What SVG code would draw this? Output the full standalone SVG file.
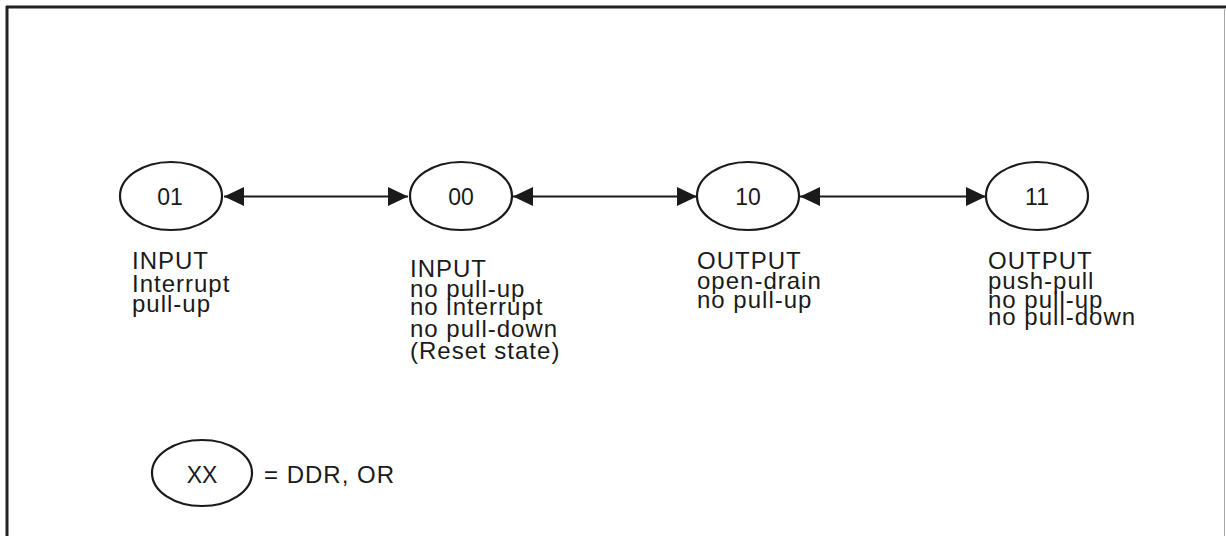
<svg xmlns="http://www.w3.org/2000/svg" width="1226" height="536" viewBox="0 0 1226 536">
<style>
.st{fill:#fff;stroke:#1a1a1a;stroke-width:2.2}
.lbl{font-family:"Liberation Sans",Arial,sans-serif;font-size:24px;letter-spacing:1px;fill:#1a1a1a}
.num{font-family:"Liberation Sans",Arial,sans-serif;font-size:23px;fill:#1a1a1a;text-anchor:middle}
.conn{stroke:#1a1a1a;stroke-width:2;fill:none;marker-start:url(#ah);marker-end:url(#ah)}
</style>
<defs>
<marker id="ah" viewBox="0 0 20 19" refX="20" refY="9.5" markerWidth="20" markerHeight="19" markerUnits="userSpaceOnUse" orient="auto-start-reverse">
<path d="M0,0 L20,9.5 L0,19 Z" fill="#1a1a1a"/>
</marker>
</defs>
<rect width="1226" height="536" fill="#fff"/>
<g id="frame">
<line x1="7" y1="6" x2="7" y2="536" stroke="#222" stroke-width="3"/>
<line x1="6" y1="7" x2="1226" y2="7" stroke="#222" stroke-width="3"/>
<line x1="1224.5" y1="8" x2="1224.5" y2="536" stroke="#aaa" stroke-width="1"/>
</g>
<g id="connectors">
<line class="conn" x1="224" y1="196.5" x2="408" y2="196.5"/>
<line class="conn" x1="513" y1="196.5" x2="697" y2="196.5"/>
<line class="conn" x1="800" y1="196.5" x2="986" y2="196.5"/>
</g>
<g id="node-01">
<ellipse class="st" cx="171" cy="196" rx="51" ry="34"/>
<text class="num" x="170" y="205">01</text>
<text class="lbl" x="132" y="269">INPUT</text>
<text class="lbl" x="132" y="292">Interrupt</text>
<text class="lbl" x="132" y="312">pull-up</text>
</g>
<g id="node-00">
<ellipse class="st" cx="461" cy="196" rx="51" ry="34"/>
<text class="num" x="461" y="205">00</text>
<text class="lbl" x="410" y="277">INPUT</text>
<text class="lbl" x="410" y="297">no pull-up</text>
<text class="lbl" x="410" y="315">no interrupt</text>
<text class="lbl" x="410" y="337">no pull-down</text>
<text class="lbl" x="410" y="359">(Reset state)</text>
</g>
<g id="node-10">
<ellipse class="st" cx="748" cy="196" rx="51" ry="34"/>
<text class="num" x="748" y="205">10</text>
<text class="lbl" x="697" y="269">OUTPUT</text>
<text class="lbl" x="697" y="289">open-drain</text>
<text class="lbl" x="697" y="308">no pull-up</text>
</g>
<g id="node-11">
<ellipse class="st" cx="1037" cy="196" rx="51" ry="34"/>
<text class="num" x="1037" y="205">11</text>
<text class="lbl" x="988" y="269">OUTPUT</text>
<text class="lbl" x="988" y="289">push-pull</text>
<text class="lbl" x="988" y="308">no pull-up</text>
<text class="lbl" x="988" y="325">no pull-down</text>
</g>
<g id="legend">
<ellipse class="st" cx="202" cy="473" rx="50" ry="33"/>
<text class="num" x="202" y="483">XX</text>
<text class="lbl" x="264" y="483">= DDR, OR</text>
</g>
</svg>
